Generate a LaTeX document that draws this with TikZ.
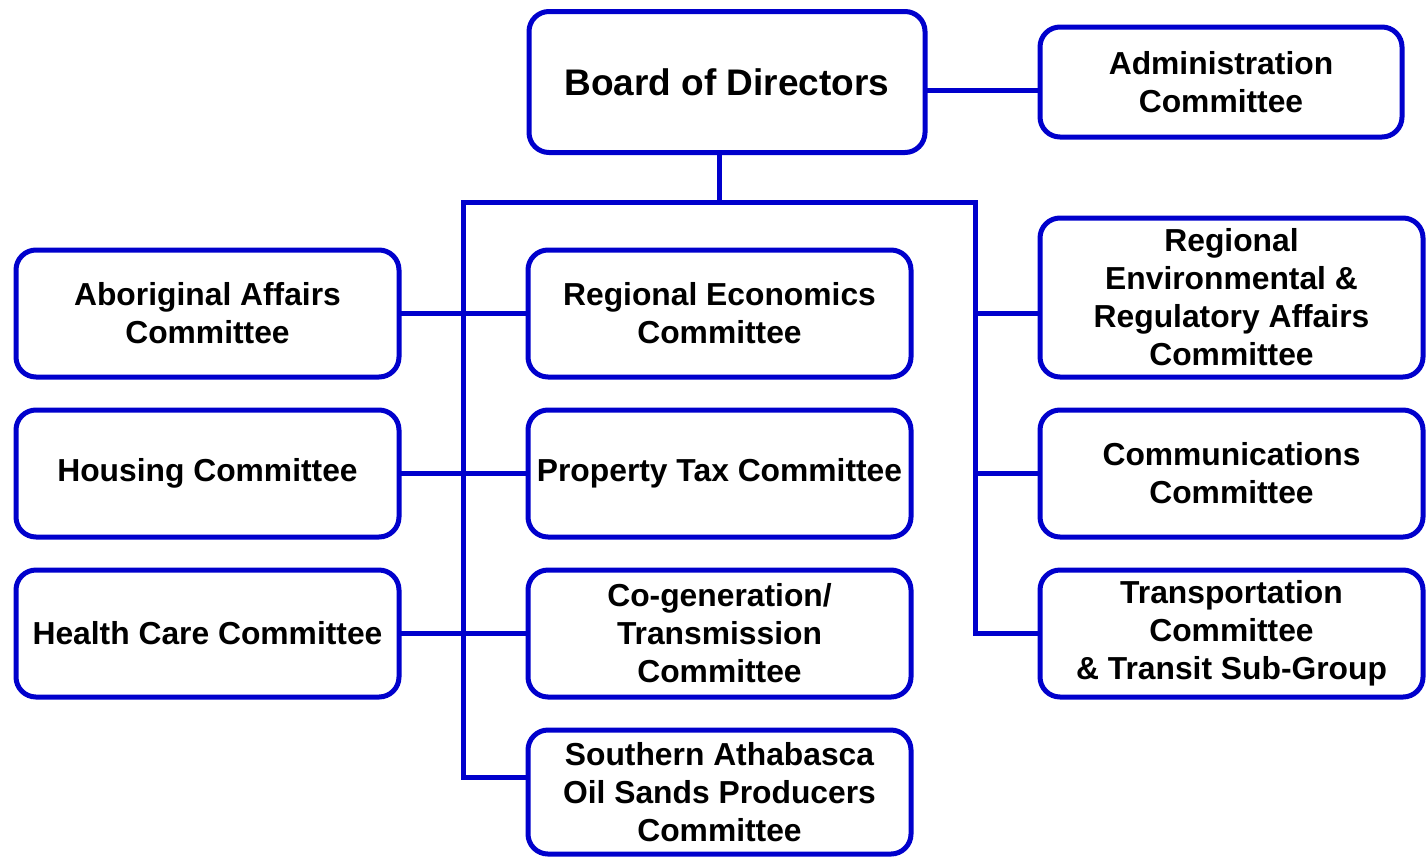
\documentclass[tikz,border=0pt]{standalone}
\usepackage{fontspec}
\setmainfont{Liberation Sans}
\usetikzlibrary{positioning}
\definecolor{linkblue}{RGB}{0,0,204}
\tikzset{
    %Define style for committee boxes
    cbox/.style={
           rectangle,
           rounded corners=10pt,
           draw=linkblue, line width=2.5pt,
           outer sep=0pt,
           inner sep=2pt,
           minimum width=191.5pt,
           minimum height=63.5pt,
           align=center,
           font=\fontsize{15.9}{19}\selectfont\bfseries},
    % Define connector style
    link/.style={
           draw=linkblue,
           line width=2.5pt}
}

\begin{document}
\begin{tikzpicture}[x=0.5pt, y=-0.5pt, node distance=16.5pt and 64.5pt]
\useasboundingbox (0,0) rectangle (1428,857);

% top of the chart
\node[cbox, minimum width=198pt, minimum height=70.5pt, font=\fontsize{18.5}{22}\selectfont\bfseries] (board) at (727,82) {Board of Directors};
\node[cbox, minimum width=181pt, minimum height=55pt] (admin) at (1221,82) {Administration\\Committee};
% middle column
\node[cbox] (regecon) at (719.5,313.5) {Regional Economics\\Committee};
\node[cbox] (proptax) [below = of regecon] {Property Tax Committee};
\node[cbox] (cogen) [below = of proptax] {Co-generation/\\Transmission\\Committee};
\node[cbox, minimum height=62pt] (sap) [below = of cogen] {Southern Athabasca\\Oil Sands Producers\\Committee};
% left column
\node[cbox] (aborig) [left = of regecon] {Aboriginal Affairs\\Committee};
\node[cbox] (housing) [left = of proptax] {Housing Committee};
\node[cbox] (health) [left = of cogen] {Health Care Committee};
% right column
\node[cbox, minimum height=79.5pt, anchor=south west] (regenv) at ([xshift=64.5pt]regecon.south east) {Regional\\Environmental \&\\Regulatory Affairs\\Committee};
\node[cbox] (comms) [right = of proptax] {Communications\\Committee};
\node[cbox] (transp) [right = of cogen] {Transportation\\Committee\\\& Transit Sub-Group};

% rails
\coordinate (lrail) at (463,202);
\coordinate (rrail) at (975,202);
\draw[link] (board.south -| regecon) -- (regecon |- lrail);
\draw[link] ([yshift=7.25pt]sap.west) -| (lrail) -- (rrail) |- (transp.west);
\draw[link] ([yshift=-4pt]board.east) -- ([yshift=-4pt]admin.west);
% row links
\draw[link] (aborig.east) -- (regecon.west);
\draw[link] (housing.east) -- (proptax.west);
\draw[link] (health.east) -- (cogen.west);
\draw[link] (rrail |- regecon) -- (regenv.west |- regecon);
\draw[link] (rrail |- proptax) -- (comms.west);

\end{tikzpicture}
\end{document}
